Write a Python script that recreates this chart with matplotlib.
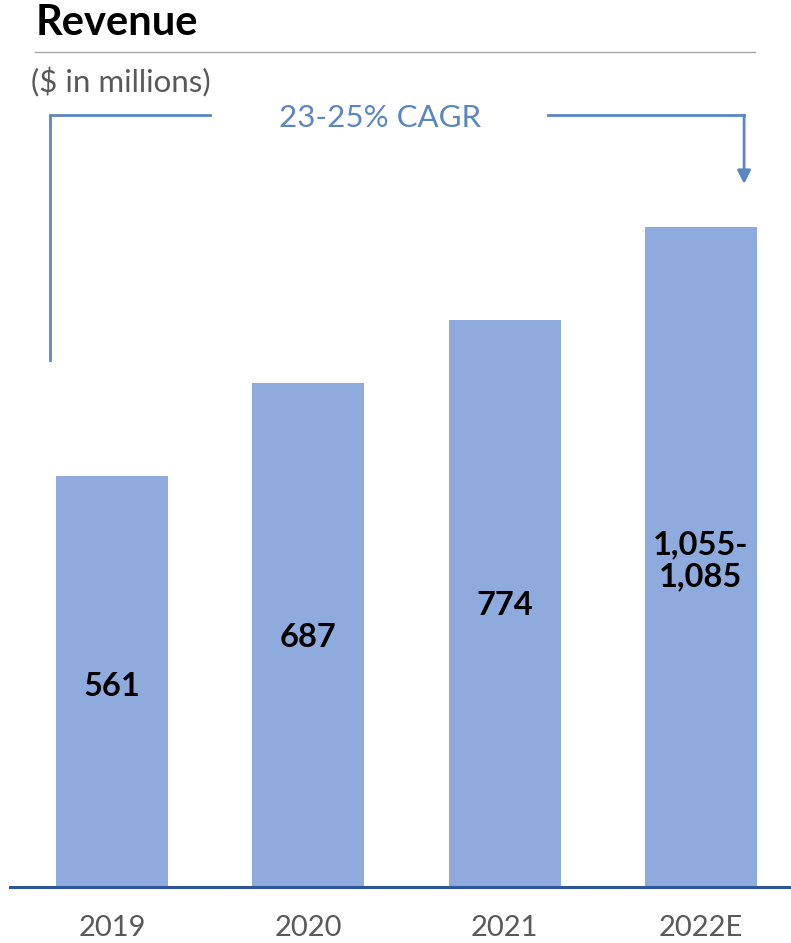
import matplotlib
matplotlib.use("Agg")
import matplotlib.pyplot as plt
from matplotlib.transforms import blended_transform_factory

plt.rcParams['font.family'] = ['Lato', 'DejaVu Sans']

years = ["2019", "2020", "2021", "2022E"]
revenue = [561, 687, 774, 900]
value_labels = ["561", "687", "774", "1,055-\n1,085"]
label_heights = [274, 341, 384, 445]

W, H = 791, 943
fig = plt.figure(figsize=(W / 100, H / 100), dpi=100)

# axes in pixel terms: left edge at x=10, baseline at y=887, top at y=100
ax_left, ax_right, ax_base, ax_top = 10, 791, 887, 100
ax = fig.add_axes([ax_left / W, 1 - ax_base / H, (ax_right - ax_left) / W, (ax_base - ax_top) / H])
x = list(range(len(years)))
bar_color = "#8FAADC"
ax.bar(x, revenue, width=0.57, color=bar_color, zorder=2)
ax.set_xlim(-0.52, 3.459)
ax.set_ylim(0, (ax_base - ax_top) / 0.733)

for s in ["top", "right", "left"]:
    ax.spines[s].set_visible(False)
ax.spines["bottom"].set_color("#2F5597")
ax.spines["bottom"].set_linewidth(2.2)
ax.spines["bottom"].set_zorder(3)
ax.set_yticks([])
ax.set_xticks(x)
ax.set_xticklabels(years, fontsize=21, color="#595959")
ax.tick_params(axis="x", length=0, pad=20)

for xi, lab, yl in zip(x, value_labels, label_heights):
    ax.text(xi, yl, lab, ha="center", va="center", fontsize=23.5, fontweight="bold",
            color="black", linespacing=1.15, zorder=4)

# title, rule and unit note
fig.text(36 / W, 1 - 23 / H, "Revenue", fontsize=30, fontweight="bold", color="black",
         ha="left", va="center")
fig.add_artist(plt.Line2D([35 / W, 755 / W], [1 - 52 / H, 1 - 52 / H], color="#A6A6A6", lw=1.0))
fig.text(31 / W, 1 - 82 / H, "($ in millions)", fontsize=22.5, color="#595959", ha="left", va="center")

# CAGR bracket spanning the first to last year
bracket = "#5A86C3"
tr = blended_transform_factory(ax.transData, fig.transFigure)
y_br = 1 - 115 / H
x_l = 0 - 0.315
x_r = 3 + 0.22
ax.plot([x_l, x_l, x_l + 0.815], [1 - 360 / H, y_br, y_br], transform=tr, color=bracket,
        lw=2, clip_on=False, solid_joinstyle="miter")
ax.plot([x_r - 1.0, x_r], [y_br, y_br], transform=tr, color=bracket, lw=2, clip_on=False)
ax.annotate("", xy=(x_r, 1 - 184 / H), xytext=(x_r, y_br), xycoords=tr, textcoords=tr,
            arrowprops=dict(arrowstyle="-|>,head_length=0.8,head_width=0.4", color=bracket,
                            lw=2, shrinkA=0, shrinkB=0), annotation_clip=False)
fig.text(380 / W, 1 - 118 / H, "23-25% CAGR", fontsize=22.5, color=bracket, ha="center", va="center")

fig.savefig("out.png", dpi=100)
